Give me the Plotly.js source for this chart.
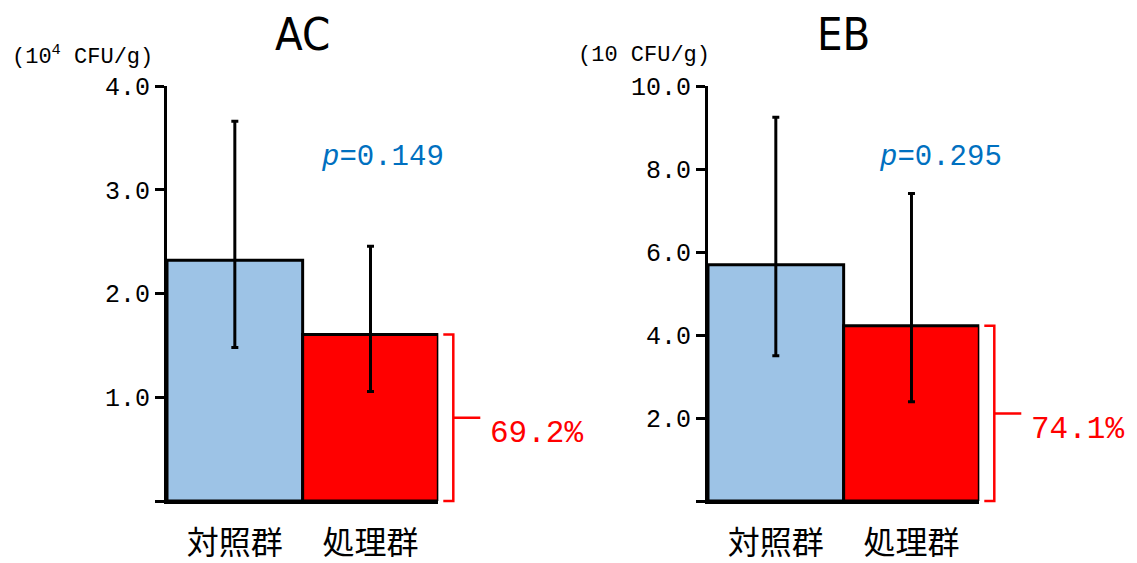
<!DOCTYPE html>
<html>
<head>
<meta charset="utf-8">
<script src="https://cdn.plot.ly/plotly-3.0.1.min.js"></script>
<style>
html,body{margin:0;padding:0;background:#fff;}
#chart{width:1137px;height:563px;}
</style>
</head>
<body>
<div id="chart"></div>
<script>
// ---- data ----
const categories = ['対照群', '処理群'];
const panelTitles = ['AC', 'EB'];
const unitLabels = ['(10<sup>4</sup> CFU/g)', '(10 CFU/g)'];

const acMeans = [2.32, 1.606];
const acErrPlus = [1.34, 0.85];
const acErrMinus = [0.84, 0.55];

const ebMeans = [5.69, 4.22];
const ebErrPlus = [3.56, 3.19];
const ebErrMinus = [2.19, 1.83];

const acTickVals = [1, 2, 3, 4];
const acTickText = ['1.0', '2.0', '3.0', '4.0'];
const ebTickVals = [2, 4, 6, 8, 10];
const ebTickText = ['2.0', '4.0', '6.0', '8.0', '10.0'];
const baseTick = [0];

const pLabels = ['0.149', '0.295'];
const pctLabels = ['69.2%', '74.1%'];

// ---- styling ----
const W = 1137, H = 563;
const barColors = ['#9DC3E6', '#FF0000'];
const monoFont = 'Liberation Mono, DejaVu Sans Mono, monospace';
const narrowFont = 'DejaVu Sans Condensed, Noto Sans CJK JP, sans-serif';
const cjkFont = 'Noto Sans CJK JP, sans-serif';

const xDomains = [[167 / W, 438.3 / W], [708 / W, 979.3 / W]];
const yDomain = [(H - 501) / H, (H - 86) / H];
const yMaxes = [4, 10];

const panels = [
  {means: acMeans, plus: acErrPlus, minus: acErrMinus, tv: acTickVals, tt: acTickText},
  {means: ebMeans, plus: ebErrPlus, minus: ebErrMinus, tv: ebTickVals, tt: ebTickText}
];

const traces = panels.map((p, i) => ({
  type: 'bar',
  x: categories,
  y: p.means,
  xaxis: i === 0 ? 'x' : 'x2',
  yaxis: i === 0 ? 'y' : 'y2',
  marker: {color: barColors, line: {color: '#000', width: 3}},
  error_y: {type: 'data', symmetric: false, array: p.plus, arrayminus: p.minus,
            color: '#000', thickness: 3, width: 3.5},
  hoverinfo: 'skip'
}));

function yPaper(v, i) {
  return yDomain[0] + v / yMaxes[i] * (yDomain[1] - yDomain[0]);
}

const layout = {
  width: W, height: H,
  margin: {l: 0, r: 0, t: 0, b: 0},
  paper_bgcolor: '#fff', plot_bgcolor: '#fff',
  showlegend: false,
  bargap: 0,
  font: {family: cjkFont, color: '#000'},
  annotations: [],
  shapes: []
};

panels.forEach((p, i) => {
  const sfx = i === 0 ? '' : '2';
  layout['xaxis' + sfx] = {
    domain: xDomains[i], anchor: 'y' + sfx, type: 'category', range: [-0.5, 1.5],
    showline: true, linewidth: 3, linecolor: '#000', ticks: '', showgrid: false,
    zeroline: false, tickfont: {family: cjkFont, size: 32, color: '#000'},
    ticklabelstandoff: 12, fixedrange: true
  };
  layout['yaxis' + sfx] = {
    domain: yDomain, anchor: 'x' + sfx, range: [0, yMaxes[i]],
    showline: true, linewidth: 3, linecolor: '#000', ticks: 'outside', ticklen: 9,
    tickwidth: 3, tickcolor: '#000', showgrid: false, zeroline: false,
    tickmode: 'array', tickvals: p.tv, ticktext: p.tt,
    minor: {tickmode: 'array', tickvals: baseTick, ticks: 'outside', ticklen: 9, tickwidth: 3, tickcolor: '#000', showgrid: false},
    tickfont: {family: monoFont, size: 25, color: '#000'}, fixedrange: true
  };

  const xc = (xDomains[i][0] + xDomains[i][1]) / 2;
  // panel title
  layout.annotations.push({
    xref: 'paper', yref: 'paper', x: xc, y: (H - 34) / H, xanchor: 'center', yanchor: 'middle',
    text: panelTitles[i], showarrow: false, font: {family: narrowFont, size: 45, color: '#000'}
  });
  // unit label
  layout.annotations.push({
    xref: 'paper', yref: 'paper', x: (i === 0 ? 10 : 576) / W, y: (H - 55) / H,
    xanchor: 'left', yanchor: 'middle', text: unitLabels[i], showarrow: false,
    font: {family: monoFont, size: 22, color: '#000'}
  });
  // p value
  layout.annotations.push({
    xref: 'paper', yref: 'paper', x: (i === 0 ? 382 : 940) / W, y: (H - 157) / H,
    xanchor: 'center', yanchor: 'middle', text: '<i>p</i>=' + pLabels[i], showarrow: false,
    font: {family: monoFont, size: 29, color: '#0070C0'}
  });
  // bracket
  const xe = xDomains[i][1];
  const xa = xe + 5 / W, xv = xe + 15 / W, xm = xe + 42 / W;
  const yTop = yPaper(p.means[1], i), yBot = yPaper(0, i);
  const yMid = (yTop + yBot) / 2;
  layout.shapes.push({
    type: 'path', xref: 'paper', yref: 'paper',
    path: `M ${xa},${yTop} L ${xv},${yTop} L ${xv},${yBot} L ${xa},${yBot} M ${xv},${yMid} L ${xm},${yMid}`,
    line: {color: '#FF0000', width: 2.5}
  });
  layout.annotations.push({
    xref: 'paper', yref: 'paper', x: xm + 8 / W, y: yMid, yshift: -16,
    xanchor: 'left', yanchor: 'middle', text: pctLabels[i], showarrow: false,
    font: {family: monoFont, size: 31, color: '#FF0000'}
  });
});

Plotly.newPlot('chart', traces, layout, {staticPlot: true, displayModeBar: false});
</script>
</body>
</html>
